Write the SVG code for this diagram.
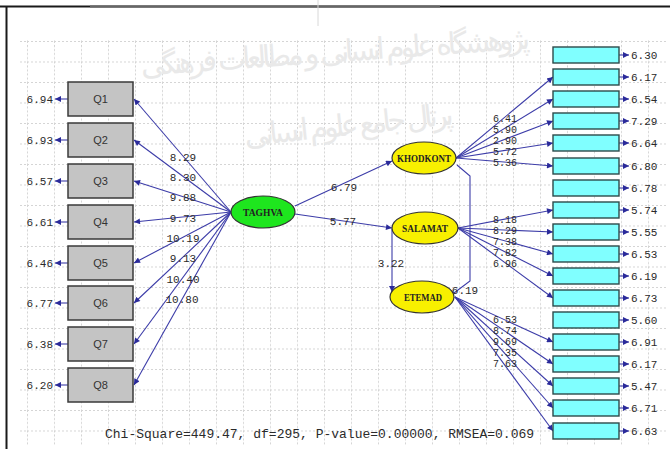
<svg xmlns="http://www.w3.org/2000/svg" width="670" height="449" viewBox="0 0 670 449">
<defs>
<style>
.ln{stroke:#3c3ca8;stroke-width:1.1;fill:none}
.qb{fill:#c4c4c4;stroke:#3a3a3a;stroke-width:1.5}
.rb{fill:#80ffff;stroke:#2d4a4a;stroke-width:1.4}
.qt{font-family:"Liberation Sans",Arial,sans-serif;font-size:11px;fill:#333;text-anchor:middle}
.num{font-family:"Liberation Mono","Courier New",monospace;font-size:11px;fill:#2a2a2a}
.sm{font-size:10px}
.mid{text-anchor:middle}
.end{text-anchor:end}
.lat{font-family:"Liberation Serif","Times New Roman",serif;font-size:10px;font-weight:bold;fill:#222;text-anchor:middle}
.wm{font-family:"DejaVu Sans",sans-serif;fill:#e9e9e9}
.fit{font-family:"Liberation Mono","Courier New",monospace;font-size:13px;fill:#2a2a2a}
</style>
<marker id="ah" viewBox="0 0 10 10" refX="10" refY="5" markerWidth="8" markerHeight="6" markerUnits="userSpaceOnUse" orient="auto">
<path d="M0,0 L10,5 L0,10 z" fill="#2a2a9a"/>
</marker>
<pattern id="grid" x="0" y="0" width="27" height="20.5" patternUnits="userSpaceOnUse">
<path d="M0.5,0 V20.5 M0,0.5 H27" stroke="#d4d4d4" stroke-width="1" stroke-dasharray="2,2" fill="none"/>
</pattern>
</defs>
<rect x="0" y="0" width="670" height="449" fill="#ffffff"/>
<rect x="18" y="40" width="650" height="405" fill="url(#grid)"/>
<g id="frame">
<line x1="0" y1="6.5" x2="670" y2="6.5" stroke="#1a1a1a" stroke-width="2"/>
<line x1="90" y1="6.5" x2="440" y2="6.5" stroke="#666" stroke-width="2"/>
<line x1="6.5" y1="6" x2="6.5" y2="449" stroke="#1a1a1a" stroke-width="2"/>
<line x1="318" y1="0" x2="318" y2="26" stroke="#d8d8d8" stroke-width="1"/>
</g>
<g id="watermark">
<text class="wm" x="336" y="62" font-size="30" text-anchor="middle" textLength="390" transform="rotate(-4 336 62)">پژوهشگاه علوم انسانی و مطالعات فرهنگی</text>
<text class="wm" x="350" y="135" font-size="30" text-anchor="middle" textLength="210" transform="rotate(-6 350 135)">پرتال جامع علوم انسانی</text>
</g>
<g id="connectors">
<path class="ln" marker-end="url(#ah)" d="M231,212 L134,99"/>
<path class="ln" marker-end="url(#ah)" d="M231,212 L134,140"/>
<path class="ln" marker-end="url(#ah)" d="M231,212 L134,181"/>
<path class="ln" marker-end="url(#ah)" d="M231,212 L134,222"/>
<path class="ln" marker-end="url(#ah)" d="M231,212 L134,263"/>
<path class="ln" marker-end="url(#ah)" d="M231,212 L134,303"/>
<path class="ln" marker-end="url(#ah)" d="M231,212 L134,344"/>
<path class="ln" marker-end="url(#ah)" d="M231,212 L134,385"/>
<path class="ln" marker-end="url(#ah)" d="M68,99 H55"/>
<path class="ln" marker-end="url(#ah)" d="M68,140 H55"/>
<path class="ln" marker-end="url(#ah)" d="M68,181 H55"/>
<path class="ln" marker-end="url(#ah)" d="M68,222 H55"/>
<path class="ln" marker-end="url(#ah)" d="M68,263 H55"/>
<path class="ln" marker-end="url(#ah)" d="M68,303 H55"/>
<path class="ln" marker-end="url(#ah)" d="M68,344 H55"/>
<path class="ln" marker-end="url(#ah)" d="M68,385 H55"/>
<path class="ln" marker-end="url(#ah)" d="M295,206 L392,161"/>
<path class="ln" marker-end="url(#ah)" d="M295,214 L392,228"/>
<path class="ln" marker-end="url(#ah)" d="M392,229 V292"/>
<path class="ln" d="M457,165 L470,176 V281 L454,293"/>
<path class="ln" marker-end="url(#ah)" d="M456,158 L553,77"/>
<path class="ln" marker-end="url(#ah)" d="M456,158 L553,99"/>
<path class="ln" marker-end="url(#ah)" d="M456,158 L553,121"/>
<path class="ln" marker-end="url(#ah)" d="M456,158 L553,143"/>
<path class="ln" marker-end="url(#ah)" d="M456,158 L553,166"/>
<path class="ln" marker-end="url(#ah)" d="M458,228 L553,210"/>
<path class="ln" marker-end="url(#ah)" d="M458,228 L553,232"/>
<path class="ln" marker-end="url(#ah)" d="M458,228 L553,254"/>
<path class="ln" marker-end="url(#ah)" d="M458,228 L553,276"/>
<path class="ln" marker-end="url(#ah)" d="M458,228 L553,298"/>
<path class="ln" marker-end="url(#ah)" d="M455,297 L553,342"/>
<path class="ln" marker-end="url(#ah)" d="M455,297 L553,364"/>
<path class="ln" marker-end="url(#ah)" d="M455,297 L553,386"/>
<path class="ln" marker-end="url(#ah)" d="M455,297 L553,408"/>
<path class="ln" marker-end="url(#ah)" d="M455,297 L553,431"/>
<g id="right-errors">
<path class="ln" marker-end="url(#ah)" d="M619,55 H629"/>
<path class="ln" marker-end="url(#ah)" d="M619,77 H629"/>
<path class="ln" marker-end="url(#ah)" d="M619,99 H629"/>
<path class="ln" marker-end="url(#ah)" d="M619,121 H629"/>
<path class="ln" marker-end="url(#ah)" d="M619,143 H629"/>
<path class="ln" marker-end="url(#ah)" d="M619,166 H629"/>
<path class="ln" marker-end="url(#ah)" d="M619,188 H629"/>
<path class="ln" marker-end="url(#ah)" d="M619,210 H629"/>
<path class="ln" marker-end="url(#ah)" d="M619,232 H629"/>
<path class="ln" marker-end="url(#ah)" d="M619,254 H629"/>
<path class="ln" marker-end="url(#ah)" d="M619,276 H629"/>
<path class="ln" marker-end="url(#ah)" d="M619,298 H629"/>
<path class="ln" marker-end="url(#ah)" d="M619,320 H629"/>
<path class="ln" marker-end="url(#ah)" d="M619,342 H629"/>
<path class="ln" marker-end="url(#ah)" d="M619,364 H629"/>
<path class="ln" marker-end="url(#ah)" d="M619,386 H629"/>
<path class="ln" marker-end="url(#ah)" d="M619,408 H629"/>
<path class="ln" marker-end="url(#ah)" d="M619,431 H629"/>
</g>
<g id="path-labels" class="num">
<text class="mid" x="183" y="161">8.29</text>
<text class="mid" x="183" y="181">8.30</text>
<text class="mid" x="183" y="201">9.88</text>
<text class="mid" x="183" y="222">9.73</text>
<text class="mid" x="183" y="242">10.19</text>
<text class="mid" x="183" y="262">9.13</text>
<text class="mid" x="183" y="283">10.40</text>
<text class="mid" x="182" y="303">10.80</text>
<text class="mid" x="344" y="191">6.79</text>
<text class="mid" x="343" y="225">5.77</text>
<text class="mid" x="391" y="267">3.22</text>
<text class="mid" x="465" y="294">6.19</text>
<text class="mid sm" x="505" y="122">6.41</text>
<text class="mid sm" x="505" y="133">5.90</text>
<text class="mid sm" x="505" y="144">2.90</text>
<text class="mid sm" x="505" y="155">5.72</text>
<text class="mid sm" x="505" y="166">5.36</text>
<text class="mid sm" x="505" y="223">8.18</text>
<text class="mid sm" x="505" y="234">8.29</text>
<text class="mid sm" x="505" y="245">7.38</text>
<text class="mid sm" x="505" y="256">7.82</text>
<text class="mid sm" x="505" y="267">6.96</text>
<text class="mid sm" x="505" y="323">6.53</text>
<text class="mid sm" x="505" y="334">8.74</text>
<text class="mid sm" x="505" y="345">9.69</text>
<text class="mid sm" x="505" y="356">7.35</text>
<text class="mid sm" x="505" y="367">7.63</text>
</g>
</g>
<g id="left-errors" class="num">
<text class="end" x="53" y="103">6.94</text>
<text class="end" x="53" y="144">6.93</text>
<text class="end" x="53" y="185">6.57</text>
<text class="end" x="53" y="226">6.61</text>
<text class="end" x="53" y="267">6.46</text>
<text class="end" x="53" y="307">6.77</text>
<text class="end" x="53" y="348">6.38</text>
<text class="end" x="53" y="389">6.20</text>
</g>
<g id="Q1"><rect class="qb" x="68" y="82" width="65" height="34"/><text class="qt" x="100.5" y="103">Q1</text></g>
<g id="Q2"><rect class="qb" x="68" y="123" width="65" height="34"/><text class="qt" x="100.5" y="144">Q2</text></g>
<g id="Q3"><rect class="qb" x="68" y="164" width="65" height="34"/><text class="qt" x="100.5" y="185">Q3</text></g>
<g id="Q4"><rect class="qb" x="68" y="205" width="65" height="34"/><text class="qt" x="100.5" y="226">Q4</text></g>
<g id="Q5"><rect class="qb" x="68" y="246" width="65" height="34"/><text class="qt" x="100.5" y="267">Q5</text></g>
<g id="Q6"><rect class="qb" x="68" y="286" width="65" height="34"/><text class="qt" x="100.5" y="307">Q6</text></g>
<g id="Q7"><rect class="qb" x="68" y="327" width="65" height="34"/><text class="qt" x="100.5" y="348">Q7</text></g>
<g id="Q8"><rect class="qb" x="68" y="368" width="65" height="34"/><text class="qt" x="100.5" y="389">Q8</text></g>
<g id="TAGHVA"><ellipse cx="263" cy="212" rx="32" ry="16" fill="#1ee61e" stroke="#333" stroke-width="1.2"/><text class="lat" x="263" y="216" textLength="40" lengthAdjust="spacingAndGlyphs">TAGHVA</text></g>
<g id="KHODKONT"><ellipse cx="424" cy="158" rx="32" ry="16" fill="#f8f000" stroke="#333" stroke-width="1.2"/><text class="lat" x="424" y="162" textLength="54" lengthAdjust="spacingAndGlyphs">KHODKONT</text></g>
<g id="SALAMAT"><ellipse cx="425" cy="228" rx="33" ry="16" fill="#f8f000" stroke="#333" stroke-width="1.2"/><text class="lat" x="425" y="232" textLength="46" lengthAdjust="spacingAndGlyphs">SALAMAT</text></g>
<g id="ETEMAD"><ellipse cx="422" cy="297" rx="32" ry="16" fill="#f8f000" stroke="#333" stroke-width="1.2"/><text class="lat" x="423" y="301" textLength="38" lengthAdjust="spacingAndGlyphs">ETEMAD</text></g>
<g id="indicators">
<g id="R1"><rect class="rb" x="553" y="47" width="66" height="16"/></g>
<g id="R2"><rect class="rb" x="553" y="69" width="66" height="16"/></g>
<g id="R3"><rect class="rb" x="553" y="91" width="66" height="16"/></g>
<g id="R4"><rect class="rb" x="553" y="113" width="66" height="16"/></g>
<g id="R5"><rect class="rb" x="553" y="135" width="66" height="16"/></g>
<g id="R6"><rect class="rb" x="553" y="158" width="66" height="16"/></g>
<g id="R7"><rect class="rb" x="553" y="180" width="66" height="16"/></g>
<g id="R8"><rect class="rb" x="553" y="202" width="66" height="16"/></g>
<g id="R9"><rect class="rb" x="553" y="224" width="66" height="16"/></g>
<g id="R10"><rect class="rb" x="553" y="246" width="66" height="16"/></g>
<g id="R11"><rect class="rb" x="553" y="268" width="66" height="16"/></g>
<g id="R12"><rect class="rb" x="553" y="290" width="66" height="16"/></g>
<g id="R13"><rect class="rb" x="553" y="312" width="66" height="16"/></g>
<g id="R14"><rect class="rb" x="553" y="334" width="66" height="16"/></g>
<g id="R15"><rect class="rb" x="553" y="356" width="66" height="16"/></g>
<g id="R16"><rect class="rb" x="553" y="378" width="66" height="16"/></g>
<g id="R17"><rect class="rb" x="553" y="400" width="66" height="16"/></g>
<g id="R18"><rect class="rb" x="553" y="423" width="66" height="16"/></g>
</g>
<g id="right-error-values" class="num">
<text x="631" y="59">6.30</text>
<text x="631" y="81">6.17</text>
<text x="631" y="103">6.54</text>
<text x="631" y="125">7.29</text>
<text x="631" y="147">6.64</text>
<text x="631" y="170">6.80</text>
<text x="631" y="192">6.78</text>
<text x="631" y="214">5.74</text>
<text x="631" y="236">5.55</text>
<text x="631" y="258">6.53</text>
<text x="631" y="280">6.19</text>
<text x="631" y="302">6.73</text>
<text x="631" y="324">5.60</text>
<text x="631" y="346">6.91</text>
<text x="631" y="368">6.17</text>
<text x="631" y="390">5.47</text>
<text x="631" y="412">6.71</text>
<text x="631" y="435">6.63</text>
</g>
<text class="fit" x="105" y="438">Chi-Square=449.47, df=295, P-value=0.00000, RMSEA=0.069</text>
</svg>
